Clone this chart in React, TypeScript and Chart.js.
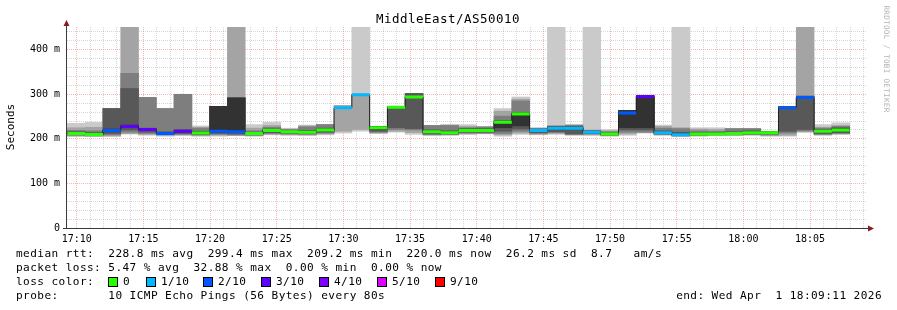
import { useEffect, useRef } from 'react';
import { Chart, registerables } from 'chart.js';

Chart.register(...registerables);

const N = null;

// ---- time axis (minutes after 17:00) ----
const FIRST_STEP_MIN = 9.3;
const STEP_MIN = 80 / 60;
const X_MIN = 9.27;
const X_MAX = 69.27;
const Y_MAX = 451;

// ---- median rtt per 80 s step (ms) ----
const medianRtt = [212, 210, 219, 228, 221, 212, 217, 213, 217, 216, 212, 219, 216, 215, 220, 270, 299, 225, 271, 294, 216, 214, 219, 219, 237, 256, 219, 224, 224, 215, 211, 258, 295, 214, 209, 211, 211, 212, 214, 214, 270, 293, 217, 220];

// ---- lost pings per step (out of 10) ----
const lossLevel = [0, 0, 2, 3, 3, 2, 3, 0, 2, 2, 0, 0, 0, 0, 0, 1, 1, 0, 0, 0, 0, 0, 0, 0, 0, 0, 1, 1, 1, 1, 0, 2, 3, 1, 1, 0, 0, 0, 0, 0, 2, 2, 0, 0];

// ---- sorted ping rtts per step (ms), 500 = beyond graph top ----
const ping1 = [205, 205, 205, N, 208, 206, 207, 206, 206, N, 206, 209, 208, 207, 209, 213, 217, 212, 215, 210, 207, 208, 210, 211, 206, 210, 209, 210, 208, 208, 206, 208, 213, 208, 205, 206, 207, 207, 208, 206, 206, N, 208, 210];
const ping2 = [207, 206, 207, 211, 210, 208, 209, 207, 208, 207, 207, 210, 209, 209, 211, 217, 221, 213, 217, 214, 209, 209, 211, 212, 209, 213, 210, 212, 209, 209, 207, 211, 214, 209, 206, 207, 208, 208, 209, 207, 208, 215, 209, 211];
const ping3 = [208, 207, 209, 215, 212, 209, 210, 209, 210, 209, 208, 212, 211, 210, 213, N, N, 215, 221, 220, 210, 210, 213, 213, 212, 217, 212, 214, 210, 211, 208, 215, 215, 210, 207, 208, 209, 209, 210, 209, 213, 218, 210, 212];
const ping4 = [210, 208, 212, 220, 215, 210, 212, 210, 212, 211, 210, 214, 213, 212, 215, N, N, 217, 225, 223, 211, 211, 215, 215, 217, 222, 214, 216, 211, 212, 209, 220, 220, 211, 208, 209, 210, 210, 211, 211, 217, 221, 212, 214];
const ping5 = [211, 209, 216, 225, 219, 211, 215, 212, 215, 214, 211, 217, 215, 214, 218, N, N, 222, N, N, 214, 213, 217, 217, 225, 229, 217, 221, 222, 213, 210, 225, 225, 212, 209, 210, 210, 211, 213, 213, N, N, 215, 219];
const ping6 = [214, 212, 222, 231, 223, 214, 219, 215, 273, 292, 213, 220, 217, 217, 221, N, N, 227, N, N, 218, 216, 221, 221, 240, 258, 221, 226, 226, 216, 212, 264, 297, 216, 212, 212, 212, 214, 216, 215, N, N, 219, 223];
const ping7 = [216, 214, 268, 313, 224, 216, 221, 217, 273, 292, 215, 222, 219, 219, 224, N, N, 228, 273, 302, 220, 218, 223, 223, 240, 258, 222, 228, 228, 218, 214, 264, 297, 218, 215, 214, 214, 216, 218, 216, 273, 296, 221, 225];
const ping8 = [219, 218, 268, 347, 293, 268, 300, 224, 273, 292, 218, 226, 221, 227, 232, N, N, 228, 273, 302, 230, 230, 225, 227, 251, 285, 223, 229, 231, 219, 216, 264, 297, 224, 223, 218, 217, 223, 223, 217, 273, 296, 224, 228];
const ping9 = [225, 226, 268, 500, 293, 268, 300, 226, 273, 500, 224, 230, 222, 229, 232, 275, 300, 228, 273, 302, 230, 231, 228, 227, 262, 289, 224, 229, 231, 220, 218, 264, 297, 228, 225, 222, 221, 223, 223, 217, 273, 500, 226, 230];
const ping10 = [235, 237, 268, N, 293, 268, 300, 229, 273, N, 232, 237, 224, 231, 232, 275, 500, 228, 273, 302, 230, 232, 232, 227, 268, 294, 225, 500, 231, 500, 221, 264, 297, 231, 500, 225, 225, 223, 223, 217, 273, N, 232, 236];

const pings = [ping1, ping2, ping3, ping4, ping5, ping6, ping7, ping8, ping9, ping10];

const smokeColors = ['#cacaca', '#a4a4a4', '#7e7e7e', '#585858', '#323232'];
const lossColors = ['#26ff00', '#00b8ff', '#0059ff', '#5e00ff', '#7e00ff', '#dd00ff', '#ff0000'];
const lossLabels = ['0', '1/10', '2/10', '3/10', '4/10', '5/10', '9/10'];

// ---- axis ticks ----
const xLabelMinutes = [10, 15, 20, 25, 30, 35, 40, 45, 50, 55, 60, 65];
const xTickLabels = ['17:10', '17:15', '17:20', '17:25', '17:30', '17:35', '17:40', '17:45', '17:50', '17:55', '18:00', '18:05'];
const yLabelValues = [0, 100, 200, 300, 400];
const yTickLabels = ['0', '100 m', '200 m', '300 m', '400 m'];

// ---- texts ----
const titleText = 'MiddleEast/AS50010';
const yAxisTitle = 'Seconds';
const watermark = 'RRDTOOL / TOBI OETIKER';
const legendRtt = 'median rtt:  228.8 ms avg  299.4 ms max  209.2 ms min  220.0 ms now  26.2 ms sd  8.7   am/s';
const legendLoss = 'packet loss: 5.47 % avg  32.88 % max  0.00 % min  0.00 % now';
const legendLossColor = 'loss color:';
const legendProbe = 'probe:       10 ICMP Echo Pings (56 Bytes) every 80s';
const legendEnd = 'end: Wed Apr  1 18:09:11 2026';

const W = 897;
const H = 310;
const PLOT_LEFT = 67;
const PLOT_RIGHT = 867;
const PLOT_TOP = 27;
const PLOT_BOTTOM = 228;
const X_AXIS_H = 20;
const MONO = '"DejaVu Sans Mono", monospace';
const MINOR_GRID = 'rgba(150,150,150,0.38)';
const MAJOR_GRID = 'rgba(235,80,80,0.42)';
const AXIS_COLOR = '#3a3a3a';
const ARROW_COLOR = '#8a1c1c';

const nSteps = medianRtt.length;
const stepStart = (i: number) => FIRST_STEP_MIN + i * STEP_MIN;

function smokeDatasets() {
  const out: any[] = [];
  for (let level = 1; level <= 5; level++) {
    const lo = pings[level - 1];
    const hi = pings[10 - level];
    const data: any[] = [];
    for (let i = 0; i < nSteps; i++) {
      if (lo[i] != null && hi[i] != null) {
        data.push({ x: stepStart(i) + STEP_MIN / 2, y: [lo[i], hi[i]] });
      }
    }
    out.push({
      type: 'bar',
      data,
      backgroundColor: smokeColors[level - 1],
      borderWidth: 0,
      grouped: false,
      barThickness: (STEP_MIN / (X_MAX - X_MIN)) * (PLOT_RIGHT - PLOT_LEFT),
      order: 8 - level,
    });
  }
  return out;
}

function medianLine() {
  const data: any[] = medianRtt.map((m, i) => ({ x: stepStart(i), y: m }));
  data.push({ x: stepStart(nSteps), y: medianRtt[nSteps - 1] });
  return {
    type: 'line',
    data,
    borderColor: '#202020',
    borderWidth: 1,
    pointRadius: 0,
    stepped: 'before',
    fill: false,
    order: 2,
  };
}

function lossLines() {
  const out: any[] = [];
  for (let lvl = 0; lvl < lossColors.length; lvl++) {
    const data: any[] = [];
    for (let i = 0; i < nSteps; i++) {
      if (lossLevel[i] !== lvl) continue;
      data.push({ x: stepStart(i), y: medianRtt[i] });
      data.push({ x: stepStart(i + 1), y: medianRtt[i] });
      data.push({ x: stepStart(i + 1), y: null });
    }
    if (!data.length) continue;
    out.push({
      type: 'line',
      data,
      borderColor: lossColors[lvl],
      borderWidth: 3,
      pointRadius: 0,
      stepped: 'before',
      fill: false,
      spanGaps: false,
      order: 1,
    });
  }
  return out;
}

const rrdDecor = {
  id: 'rrdDecor',
  afterDraw(chart: any) {
    const ctx = chart.ctx as CanvasRenderingContext2D;
    const a = chart.chartArea;
    ctx.save();
    // axes
    ctx.strokeStyle = AXIS_COLOR;
    ctx.lineWidth = 1;
    ctx.beginPath();
    ctx.moveTo(a.left - 0.5, a.bottom + 1);
    ctx.lineTo(a.left - 0.5, a.top - 3);
    ctx.stroke();
    ctx.beginPath();
    ctx.moveTo(a.left - 4, a.bottom + 0.5);
    ctx.lineTo(a.right + 3, a.bottom + 0.5);
    ctx.stroke();
    // arrows
    ctx.fillStyle = ARROW_COLOR;
    ctx.beginPath();
    ctx.moveTo(a.left - 0.5, a.top - 7);
    ctx.lineTo(a.left - 3.5, a.top - 1);
    ctx.lineTo(a.left + 2.5, a.top - 1);
    ctx.closePath();
    ctx.fill();
    ctx.beginPath();
    ctx.moveTo(a.right + 7, a.bottom + 0.5);
    ctx.lineTo(a.right + 1, a.bottom - 2.5);
    ctx.lineTo(a.right + 1, a.bottom + 3.5);
    ctx.closePath();
    ctx.fill();

    (ctx as any).letterSpacing = '0px';
    ctx.fillStyle = '#000';
    ctx.textBaseline = 'middle';
    // title
    ctx.font = `12.5px ${MONO}`;
    (ctx as any).letterSpacing = '0.47px';
    ctx.textAlign = 'center';
    ctx.fillText(titleText, 448, 19.5);
    // y axis title
    ctx.font = `11px ${MONO}`;
    (ctx as any).letterSpacing = '0px';
    ctx.save();
    ctx.translate(11, 127);
    ctx.rotate(-Math.PI / 2);
    ctx.fillText(yAxisTitle, 0, 0);
    ctx.restore();
    // watermark
    ctx.save();
    ctx.fillStyle = '#b4b4b4';
    ctx.font = `7.6px ${MONO}`;
    (ctx as any).letterSpacing = '0.3px';
    ctx.translate(886, 59);
    ctx.rotate(Math.PI / 2);
    ctx.fillText(watermark, 0, 0);
    ctx.restore();

    // legend
    ctx.font = `11.1px ${MONO}`;
    (ctx as any).letterSpacing = '0.42px';
    ctx.textAlign = 'left';
    ctx.fillText(legendRtt, 16, 254);
    ctx.fillText(legendLoss, 16, 268);
    ctx.fillText(legendLossColor, 16, 282);
    ctx.fillText(legendProbe, 16, 296);
    ctx.textAlign = 'right';
    ctx.fillText(legendEnd, 882, 296);
    ctx.textAlign = 'left';
    const boxX = [108, 146, 203, 261, 319, 377, 435];
    for (let k = 0; k < lossColors.length; k++) {
      const bx = boxX[k];
      ctx.fillStyle = lossColors[k];
      ctx.fillRect(bx, 277, 9, 9);
      ctx.strokeStyle = '#000';
      ctx.strokeRect(bx + 0.5, 277.5, 9, 9);
      ctx.fillStyle = '#000';
      ctx.fillText(lossLabels[k], bx + 15, 282);
    }
    ctx.restore();
  },
};

export default function App() {
  const ref = useRef<HTMLCanvasElement | null>(null);
  useEffect(() => {
    if (!ref.current) return;
    const gridMinutes: number[] = [];
    for (let m = 10; m <= 69; m++) gridMinutes.push(m);
    const yGrid: number[] = [];
    for (let v = 0; v <= 440; v += 20) yGrid.push(v);

    const chart = new Chart(ref.current, {
      type: 'line',
      data: { datasets: [...lossLines(), medianLine(), ...smokeDatasets()] as any },
      options: {
        animation: false,
        responsive: false,
        devicePixelRatio: 1,
        events: [],
        layout: { padding: { left: 0, top: PLOT_TOP, right: W - PLOT_RIGHT, bottom: H - PLOT_BOTTOM - X_AXIS_H } },
        plugins: { legend: { display: false }, tooltip: { enabled: false }, title: { display: false } },
        scales: {
          x: {
            type: 'linear',
            min: X_MIN,
            max: X_MAX,
            bounds: 'data',
            offset: false,
            afterFit: (s: any) => { s.height = X_AXIS_H; },
            afterBuildTicks: (s: any) => { s.ticks = gridMinutes.map((v) => ({ value: v })); },
            ticks: {
              autoSkip: false,
              maxRotation: 0,
              minRotation: 0,
              padding: 5,
              color: '#000',
              font: { family: MONO, size: 10 },
              callback: (v: any) => {
                const k = xLabelMinutes.indexOf(Math.round(Number(v)));
                return k >= 0 ? xTickLabels[k] : '';
              },
            },
            grid: {
              offset: false,
              drawTicks: false,
              lineWidth: 1,
              color: (c: any) => (c.tick && Math.round(c.tick.value) % 5 === 0 ? MAJOR_GRID : MINOR_GRID),
            },
            border: { display: false, dash: [1, 1] },
          },
          y: {
            type: 'linear',
            min: 0,
            max: Y_MAX,
            bounds: 'data',
            afterFit: (s: any) => { s.width = PLOT_LEFT; },
            afterBuildTicks: (s: any) => { s.ticks = yGrid.map((v) => ({ value: v })); },
            ticks: {
              autoSkip: false,
              padding: 7,
              color: '#000',
              font: { family: MONO, size: 10 },
              callback: (v: any) => {
                const k = yLabelValues.indexOf(Math.round(Number(v)));
                return k >= 0 ? yTickLabels[k] : '';
              },
            },
            grid: {
              drawTicks: false,
              lineWidth: 1,
              color: (c: any) => (c.tick && Math.round(c.tick.value) % 100 === 0 ? MAJOR_GRID : MINOR_GRID),
            },
            border: { display: false, dash: [1, 1] },
          },
        },
      } as any,
      plugins: [rrdDecor],
    });
    return () => chart.destroy();
  }, []);

  return (
    <div style={{ position: 'fixed', left: 0, top: 0, width: W, height: H, background: '#ffffff' }}>
      <canvas ref={ref} width={W} height={H} style={{ display: 'block' }} />
    </div>
  );
}
